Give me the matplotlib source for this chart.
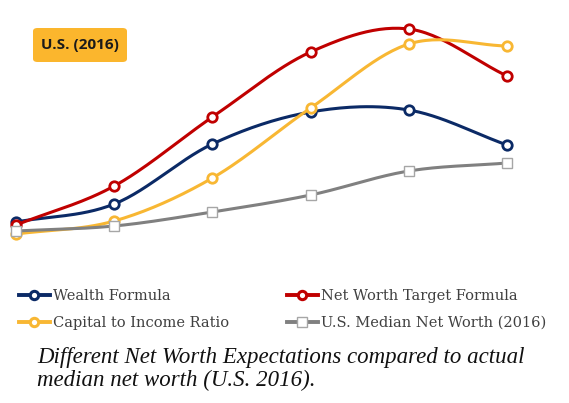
import numpy as np
import matplotlib
matplotlib.use("Agg")
import matplotlib.pyplot as plt
from matplotlib.patches import FancyBboxPatch

# Data (arbitrary units)
categories = [0, 1, 2, 3, 4, 5]
wealth_formula = [28, 46, 106, 138, 140, 105]
net_worth_target = [25, 64, 133, 198, 221, 174]
capital_to_income = [16, 29, 72, 142, 206, 204]
us_median = [19, 24, 38, 55, 79, 87]

series_names = ["Wealth Formula", "Net Worth Target Formula",
                "Capital to Income Ratio", "U.S. Median Net Worth (2016)"]
colors = ["#0B2A66", "#C00000", "#F8B733", "#808080"]

def smooth(xs, ys, n=30):
    xs = np.asarray(xs, float); ys = np.asarray(ys, float)
    px = np.concatenate([[2*xs[0]-xs[1]], xs, [2*xs[-1]-xs[-2]]])
    py = np.concatenate([[2*ys[0]-ys[1]], ys, [2*ys[-1]-ys[-2]]])
    ox, oy = [], []
    for i in range(1, len(px)-2):
        t = np.linspace(0, 1, n, endpoint=(i == len(px)-3))
        for arr, out in ((px, ox), (py, oy)):
            p0, p1, p2, p3 = arr[i-1], arr[i], arr[i+1], arr[i+2]
            out.extend(0.5*((2*p1) + (-p0+p2)*t + (2*p0-5*p1+4*p2-p3)*t**2 + (-p0+3*p1-3*p2+p3)*t**3))
    return np.array(ox), np.array(oy)

fig = plt.figure(figsize=(5.69, 4.03), dpi=100)
ax = fig.add_axes([0, 0, 1, 1])
W, H = 569, 403
x0px, dx = 16, 98.2
ax.set_xlim(-x0px/dx, (W-x0px)/dx)
base = 250
ax.set_ylim(base - H, base)
ax.axis("off")

all_series = [wealth_formula, net_worth_target, capital_to_income, us_median]
handles = []
for k, (vals, c, name) in enumerate(zip(all_series, colors, series_names)):
    sx, sy = smooth(categories, vals)
    ax.plot(sx, sy, color=c, lw=2.2, zorder=2+k, solid_capstyle="round")
    if k < 3:
        ax.plot(categories, vals, ls="none", marker="o", ms=6.8, mfc="white",
                mec=c, mew=2.0, zorder=2+k)
        h, = ax.plot([], [], color=c, lw=2.8, marker="o", ms=6, mfc="white", mec=c, mew=2.2)
    else:
        ax.plot(categories, vals, ls="none", marker="s", ms=7, mfc="white",
                mec="#A6A6A6", mew=1, zorder=2+k)
        h, = ax.plot([], [], color=c, lw=2.8, marker="s", ms=6.5, mfc="white", mec="#A6A6A6", mew=1)
    handles.append(h)

legprops = {"family": "DejaVu Serif", "size": 10.5}
common = dict(loc="upper left", frameon=False, handlelength=2.1, handletextpad=0.25,
              labelspacing=0.87, prop=legprops, labelcolor="#404040",
              borderaxespad=0, borderpad=0)
leg1 = fig.legend([handles[0], handles[2]], [series_names[0], series_names[2]],
                  bbox_to_anchor=(19/W, 1-289/H), **common)
leg2 = fig.legend([handles[1], handles[3]], [series_names[1], series_names[3]],
                  bbox_to_anchor=(287/W, 1-289/H), **common)

# Title badge
box = FancyBboxPatch((33/W, 1-62/H), 94/W, 34/H, boxstyle="round,pad=0,rounding_size=0.008",
                     transform=fig.transFigure, fc="#FBB62D", ec="none", zorder=1)
fig.patches.append(box)
fig.text(80/W, 1-45/H, "U.S. (2016)", ha="center", va="center", fontsize=11,
         fontweight="bold", family="Open Sans", color="#1a1a1a")

fig.text(37/W, 1-369/H, "Different Net Worth Expectations compared to actual\nmedian net worth (U.S. 2016).",
         ha="left", va="center", fontsize=16.5, fontstyle="italic", family="Liberation Serif",
         linespacing=1.07, color="#111111")

fig.savefig("out.png", dpi=100)
